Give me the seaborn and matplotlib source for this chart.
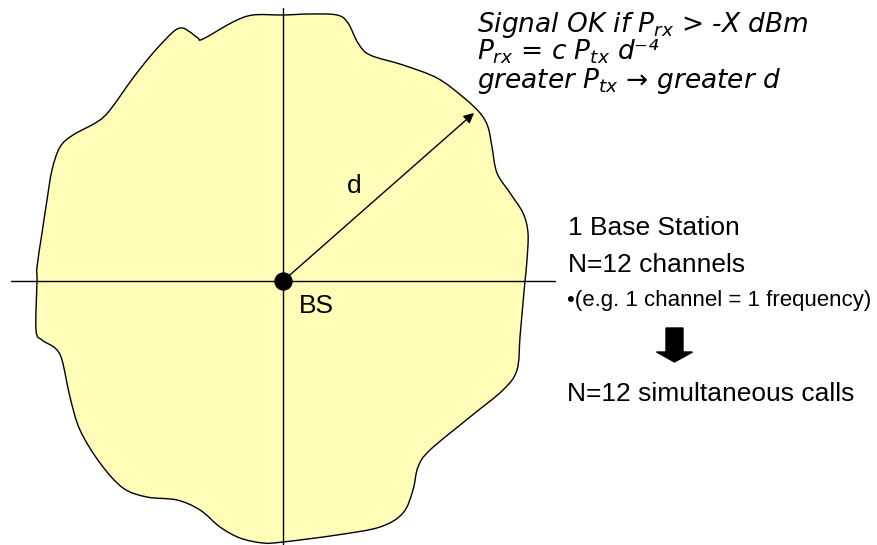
import numpy as np
import pandas as pd
import matplotlib
matplotlib.use('Agg')
import matplotlib.pyplot as plt
import seaborn as sns
from matplotlib.path import Path
from matplotlib.patches import PathPatch

sns.set_theme(style='white')
plt.rcParams['font.family'] = ['DejaVu Sans']
plt.rcParams['mathtext.fontset'] = 'dejavusans'

# coverage area outline (pixel coords, y down), clockwise from top
blob_x = [283, 310, 337, 348, 358, 370, 403, 437, 463, 480, 488, 492, 497, 510, 523, 528,
          527, 525, 523, 520, 517, 503, 470, 430, 418, 413, 403, 380, 337, 283, 263, 240,
          220, 200, 177, 147, 123, 100, 80, 70, 62, 55, 42, 36, 37, 37, 42, 47, 52, 60,
          73, 97, 110, 133, 153, 173, 182, 190, 198, 203, 233, 253]
blob_y = [15, 14, 15, 23, 43, 55, 65, 78, 97, 113, 127, 147, 173, 193, 213, 233,
          260, 281, 303, 337, 370, 390, 417, 450, 467, 490, 513, 527, 535, 542, 543, 538,
          527, 510, 500, 497, 488, 463, 430, 397, 360, 348, 340, 330, 281, 267, 233, 200, 170, 147,
          135, 122, 110, 78, 53, 32, 28, 32, 38, 39, 22, 15]

# base station and radius arrow
bs = (283, 281)
tip = (474, 113)
h_axis_x = [11, 555]
v_axis_y = [8, 545]

top_lines = [r'Signal OK if $P_{rx}$ > -X dBm',
             r'$P_{rx}$ = c $P_{tx}$ d⁻⁴',
             r'greater $P_{tx}$ → greater d']
top_baselines = [32, 60, 88]

right_lines = ['1 Base Station', 'N=12 channels']
right_baselines = [235, 272]
note_text = '•(e.g. 1 channel = 1 frequency)'
result_text = 'N=12 simultaneous calls'

body_font = ['Liberation Sans', 'DejaVu Sans']


def closed_smooth_path(xs, ys):
    # Catmull-Rom through the read points, as cubic Bezier segments
    p = np.column_stack([xs, ys]).astype(float)
    n = len(p)
    verts = [p[0]]
    codes = [Path.MOVETO]
    for i in range(n):
        p0, p1, p2, p3 = p[i - 1], p[i], p[(i + 1) % n], p[(i + 2) % n]
        verts += [p1 + (p2 - p0) / 6.0, p2 - (p3 - p1) / 6.0, p2]
        codes += [Path.CURVE4] * 3
    verts.append(p[0])
    codes.append(Path.CLOSEPOLY)
    return Path(verts, codes)


fig = plt.figure(figsize=(8.77, 5.45), dpi=100)
ax = fig.add_axes([0, 0, 1, 1])

ax.add_patch(PathPatch(closed_smooth_path(blob_x, blob_y), facecolor='#FFFDB8',
                       edgecolor='black', lw=1.0, zorder=1))

ax.plot(h_axis_x, [bs[1], bs[1]], color='black', lw=1.0, zorder=2)
ax.plot([bs[0], bs[0]], v_axis_y, color='black', lw=1.0, zorder=2)

ax.annotate('', xy=tip, xytext=bs,
            arrowprops=dict(arrowstyle='-|>', color='black', lw=1.0,
                            mutation_scale=15, shrinkA=0, shrinkB=0), zorder=3)

sns.scatterplot(x=[bs[0]], y=[bs[1]], s=150, color='black', edgecolor='black',
                ax=ax, zorder=5, legend=False)

ax.text(299, 313, 'BS', fontsize=19, family=body_font, va='baseline', color='black')
ax.text(347, 193, 'd', fontsize=19, family=body_font, va='baseline', color='black')

for line, yb in zip(top_lines, top_baselines):
    ax.text(477, yb, line, fontsize=19, style='italic', va='baseline', color='black')

for line, yb in zip(right_lines, right_baselines):
    ax.text(568, yb, line, fontsize=19, family=body_font, va='baseline', color='black')
ax.text(567, 306, note_text, fontsize=16, family=body_font, va='baseline', color='black')

ax.arrow(674.5, 328, 0, 34, width=17, head_width=36, head_length=10,
         length_includes_head=True, color='black', zorder=3)

ax.text(567, 401, result_text, fontsize=19, family=body_font, va='baseline', color='black')

ax.set_xlim(0, 877)
ax.set_ylim(545, 0)
ax.axis('off')

fig.savefig('out.png', dpi=100)
